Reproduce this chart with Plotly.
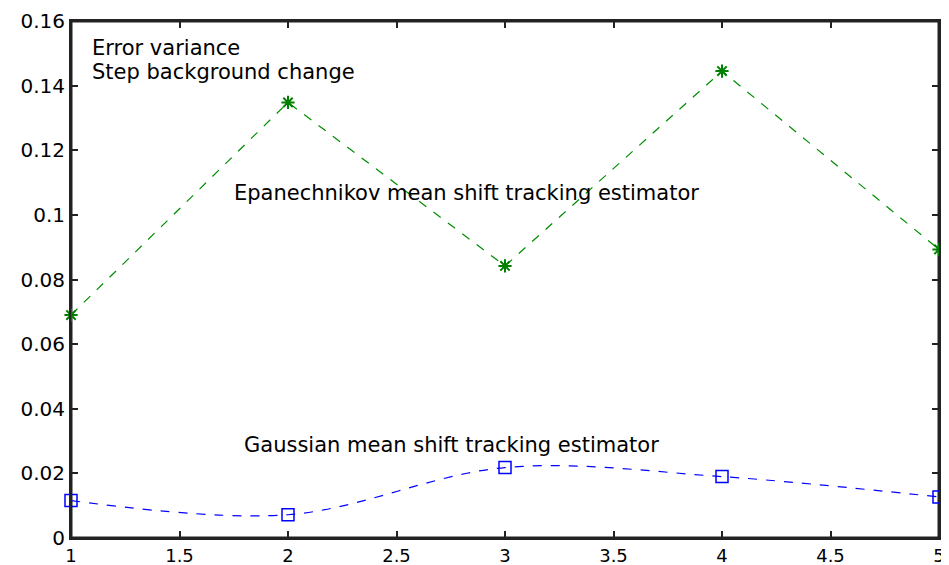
import plotly.graph_objects as go

x_vals = [1, 2, 3, 4, 5]
epan_vals = [0.069, 0.1348, 0.0842, 0.1445, 0.0893]
gauss_vals = [0.0116, 0.0072, 0.0218, 0.0190, 0.0127]

x_range = [1, 5]
y_range = [0, 0.16]
x_ticks = [1, 1.5, 2, 2.5, 3, 3.5, 4, 4.5, 5]
x_ticklabels = ["1", "1.5", "2", "2.5", "3", "3.5", "4", "4.5", "5"]
y_ticks = [0, 0.02, 0.04, 0.06, 0.08, 0.1, 0.12, 0.14, 0.16]
y_ticklabels = ["0", "0.02", "0.04", "0.06", "0.08", "0.1", "0.12", "0.14", "0.16"]

FONT = "DejaVu Sans, Verdana, sans-serif"

fig = go.Figure()
# axes box (frame), built from the axis ranges
fig.add_trace(go.Scatter(
    x=[x_range[0], x_range[1], x_range[1], x_range[0], x_range[0]],
    y=[y_range[0], y_range[0], y_range[1], y_range[1], y_range[0]],
    mode="lines", line=dict(color="#222222", width=3),
    showlegend=False, hoverinfo="skip", cliponaxis=False,
))
fig.add_trace(go.Scatter(
    x=x_vals, y=epan_vals, mode="lines+markers",
    line=dict(color="rgb(0,140,0)", width=1.2, dash="dash"),
    marker=dict(symbol="asterisk", size=11, line=dict(color="rgb(0,128,0)", width=2)),
    showlegend=False, cliponaxis=False,
))
fig.add_trace(go.Scatter(
    x=x_vals, y=gauss_vals, mode="lines+markers",
    line=dict(color="rgb(0,0,255)", width=1.2, dash="dash", shape="spline"),
    marker=dict(symbol="square-open", size=12, color="rgb(0,0,255)", line=dict(width=1.5)),
    showlegend=False, cliponaxis=False,
))

annots = [
    dict(x=1.087, y=0.1518, text="Error variance"),
    dict(x=1.087, y=0.1442, text="Step background change"),
    dict(x=1.743, y=0.1068, text="Epanechnikov mean shift tracking estimator"),
    dict(x=1.789, y=0.0288, text="Gaussian mean shift tracking estimator"),
]
for a in annots:
    fig.add_annotation(x=a["x"], y=a["y"], text=a["text"], xanchor="left",
                       yanchor="middle", showarrow=False,
                       font=dict(family=FONT, size=21, color="black"))

fig.update_layout(
    width=949, height=565,
    margin=dict(l=63, r=18, t=13, b=35, autoexpand=False),
    paper_bgcolor="white", plot_bgcolor="white",
    font=dict(family=FONT, size=20, color="black"),
)
fig.update_xaxes(
    range=x_range, tickvals=x_ticks, ticktext=x_ticklabels, automargin=False,
    ticks="inside", ticklen=7, tickwidth=2, tickcolor="#222222",
    showline=True, linecolor="#222222", linewidth=2, mirror="allticks",
    showgrid=False, zeroline=False, layer="above traces",
    tickfont=dict(size=18),
)
fig.update_yaxes(
    range=y_range, tickvals=y_ticks, ticktext=y_ticklabels, automargin=False,
    ticks="inside", ticklen=7, tickwidth=2, tickcolor="#222222",
    showline=True, linecolor="#222222", linewidth=2, mirror="allticks",
    showgrid=False, zeroline=False, layer="above traces",
    tickfont=dict(size=20),
)

fig.write_html("out.html")
